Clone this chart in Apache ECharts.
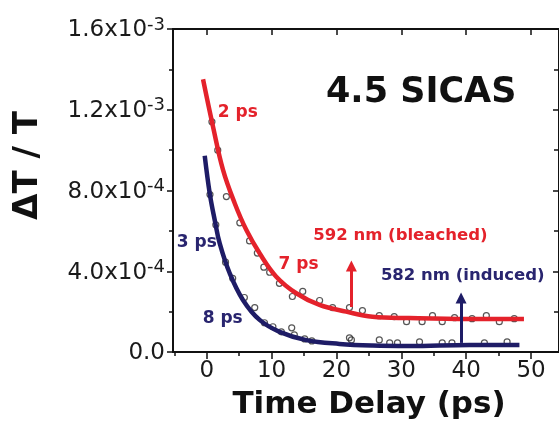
<!DOCTYPE html>
<html>
<head>
<meta charset="utf-8">
<script src="https://cdn.jsdelivr.net/npm/echarts@6/dist/echarts.min.js"></script>
<style>
  html, body { margin: 0; padding: 0; background: #fff; }
  #chart { width: 559px; height: 429px; }
</style>
</head>
<body>
<div id="chart"></div>
<script>
// Bi-exponential fit curves, [time delay (ps), ΔT/T]
const fit592 = [
  [-0.57, 1.351e-3], [0.97, 1.116e-3], [2.51, 9.02e-4], [4.31, 7.37e-4],
  [6.11, 6.04e-4], [8.15, 4.89e-4], [10.72, 3.73e-4], [13.8, 2.91e-4],
  [17.38, 2.33e-4], [21.49, 2.0e-4], [25.54, 1.75e-4], [31.2, 1.68e-4],
  [40.5, 1.63e-4], [48.9, 1.63e-4]
];
const fit582 = [
  [-0.31, 9.72e-4], [0.46, 7.86e-4], [1.23, 6.54e-4], [2.0, 5.38e-4],
  [3.54, 3.9e-4], [5.58, 2.58e-4], [8.15, 1.59e-4], [11.23, 1.0e-4],
  [15.34, 5.9e-5], [20.46, 4.0e-5], [25.54, 3.2e-5], [31.2, 3.0e-5],
  [40.5, 3.5e-5], [48.2, 3.5e-5]
];

// Measured transmission changes
const data592 = [
  [0.8, 1.14e-3], [1.7, 1.0e-3], [3.03, 7.7e-4], [5.1, 6.4e-4], [6.6, 5.5e-4],
  [7.8, 4.9e-4], [8.8, 4.2e-4], [9.7, 3.95e-4], [11.2, 3.4e-4], [13.2, 2.75e-4],
  [14.8, 3.0e-4], [17.4, 2.55e-4], [19.4, 2.2e-4], [22.0, 2.2e-4], [24.0, 2.05e-4],
  [26.6, 1.8e-4], [28.9, 1.75e-4], [30.8, 1.5e-4], [33.2, 1.5e-4], [34.8, 1.8e-4],
  [36.3, 1.5e-4], [38.2, 1.7e-4], [40.9, 1.65e-4], [43.1, 1.8e-4], [45.1, 1.5e-4],
  [47.4, 1.65e-4]
];
const data582 = [
  [0.5, 7.8e-4], [1.4, 6.3e-4], [2.9, 4.45e-4], [4.0, 3.65e-4], [5.8, 2.7e-4],
  [7.4, 2.2e-4], [8.9, 1.45e-4], [10.2, 1.25e-4], [11.5, 1.0e-4], [13.1, 1.2e-4],
  [13.5, 8.5e-5], [15.1, 6.5e-5], [16.2, 5.5e-5], [22.0, 7.0e-5], [22.3, 6.0e-5],
  [26.6, 6.0e-5], [28.2, 4.5e-5], [29.4, 4.5e-5], [32.8, 5.0e-5], [36.3, 4.5e-5],
  [37.8, 4.5e-5], [42.8, 4.5e-5], [46.3, 5.0e-5]
];

// Axis ticks and labels
const xTickValues = [0, 10, 20, 30, 40, 50];
const xMinorTickValues = [-5, 5, 15, 25, 35, 45];
const yTickValues = [0, 4e-4, 8e-4, 1.2e-3, 1.6e-3];
const yTickMantissa = ['0.0', '4.0x10', '8.0x10', '1.2x10', '1.6x10'];
const yTickExponent = ['', '-4', '-4', '-3', '-3'];

// Annotation texts
const lifetimes592 = ['2 ps', '7 ps'];
const lifetimes582 = ['3 ps', '8 ps'];
const probe592 = '592 nm (bleached)';
const probe582 = '582 nm (induced)';
const sampleName = '4.5 SICAS';

const RED = '#e4222b';
const NAVY = '#1e1c66';
const NAVY_TEXT = '#29256f';
const FONT = 'DejaVu Sans';

const chart = echarts.init(document.getElementById('chart'), null, { renderer: 'canvas' });

const xRange = { min: -5.2, max: 54.3 };

function yLabel(v) {
  for (let i = 0; i < yTickValues.length; i++) {
    if (Math.abs(v - yTickValues[i]) < 1e-9) {
      return yTickExponent[i]
        ? '{b|' + yTickMantissa[i] + '}{s|' + yTickExponent[i] + '}'
        : '{b|' + yTickMantissa[i] + '}';
    }
  }
  return '';
}

function annotation(name, x, y, color, size) {
  return {
    name: name, coord: [x, y], symbol: 'circle', symbolSize: 0,
    label: {
      show: true, position: 'inside', formatter: '{b}', color: color,
      fontSize: size, fontWeight: 'bold', fontFamily: FONT
    }
  };
}

const tickStyle = { color: '#111', width: 1.5 };

const option = {
  animation: false,
  backgroundColor: '#fff',
  title: {
    text: sampleName, left: 326, top: 75, padding: 0,
    textStyle: { fontSize: 35, fontWeight: 'bold', fontFamily: FONT, color: '#111' }
  },
  grid: { left: 173, top: 29, right: -2, bottom: 77, containLabel: false },
  xAxis: [
    {
      type: 'value', position: 'bottom', min: xRange.min, max: xRange.max,
      axisLine: { show: true, onZero: false, lineStyle: { color: '#111', width: 2 } },
      axisTick: { show: true, customValues: xTickValues, length: 7, lineStyle: tickStyle },
      axisLabel: { customValues: xTickValues, fontSize: 23, fontFamily: FONT, color: '#1a1a1a', margin: 8 },
      splitLine: { show: false },
      name: 'Time Delay (ps)', nameLocation: 'middle', nameGap: 37,
      nameTextStyle: { fontSize: 31, fontWeight: 'bold', fontFamily: FONT, color: '#111', padding: [0, 0, 0, 6] }
    },
    {
      type: 'value', position: 'bottom', min: xRange.min, max: xRange.max,
      axisLine: { show: false },
      axisTick: { show: true, customValues: xMinorTickValues, length: 4, lineStyle: tickStyle },
      axisLabel: { show: false }, splitLine: { show: false }
    },
    {
      type: 'value', position: 'top', min: xRange.min, max: xRange.max,
      axisLine: { show: true, onZero: false, lineStyle: { color: '#111', width: 2 } },
      axisTick: { show: true, inside: true, customValues: xTickValues, length: 6, lineStyle: tickStyle },
      axisLabel: { show: false }, splitLine: { show: false }
    },
    {
      type: 'value', position: 'top', min: xRange.min, max: xRange.max,
      axisLine: { show: false },
      axisTick: { show: true, inside: true, customValues: xMinorTickValues, length: 4, lineStyle: tickStyle },
      axisLabel: { show: false }, splitLine: { show: false }
    }
  ],
  yAxis: [
    {
      type: 'value', position: 'left', min: 0, max: 1.6e-3, interval: 4e-4,
      axisLine: { show: true, onZero: false, lineStyle: { color: '#111', width: 2 } },
      axisTick: { show: true, length: 6, lineStyle: tickStyle },
      minorTick: { show: true, splitNumber: 2, length: 4, lineStyle: tickStyle },
      splitLine: { show: false },
      axisLabel: {
        margin: 8, formatter: yLabel,
        rich: {
          b: { fontSize: 23, fontFamily: FONT, color: '#1a1a1a', lineHeight: 26, verticalAlign: 'bottom' },
          s: { fontSize: 18, fontFamily: FONT, color: '#1a1a1a', lineHeight: 20, verticalAlign: 'top' }
        }
      },
      name: 'ΔT / T', nameLocation: 'middle', nameGap: 128, nameRotate: 90,
      nameTextStyle: { fontSize: 34, fontWeight: 'bold', fontFamily: FONT, color: '#111', padding: [0, 0, 0, 50] }
    },
    {
      type: 'value', position: 'right', min: 0, max: 1.6e-3, interval: 4e-4,
      axisLine: { show: true, onZero: false, lineStyle: { color: '#111', width: 2 } },
      axisTick: { show: true, inside: true, length: 6, lineStyle: tickStyle },
      minorTick: { show: true, splitNumber: 2, length: 5, lineStyle: tickStyle },
      axisLabel: { show: false }, splitLine: { show: false }
    }
  ],
  series: [
    {
      name: 'measured 592', type: 'scatter', data: data592, z: 2,
      symbol: 'circle', symbolSize: 6,
      itemStyle: { color: 'rgba(255,255,255,0)', borderColor: '#2a2a2a', borderWidth: 1.2 }
    },
    {
      name: 'measured 582', type: 'scatter', data: data582, z: 2,
      symbol: 'circle', symbolSize: 6,
      itemStyle: { color: 'rgba(255,255,255,0)', borderColor: '#2a2a2a', borderWidth: 1.2 }
    },
    {
      name: '592 nm fit', type: 'line', data: fit592, z: 4, smooth: 0.4,
      showSymbol: false, lineStyle: { color: RED, width: 4.5 }, itemStyle: { color: RED },
      markPoint: {
        silent: true,
        data: [
          annotation(lifetimes592[0], 4.8, 1.184e-3, RED, 17),
          annotation(lifetimes592[1], 14.15, 4.31e-4, RED, 17),
          annotation(probe592, 29.85, 5.75e-4, RED, 16.5)
        ]
      },
      markLine: {
        silent: true, symbol: ['none', 'triangle'], symbolSize: 11,
        label: { show: false },
        lineStyle: { color: RED, width: 3, type: 'solid' },
        data: [[{ coord: [22.3, 2.23e-4] }, { coord: [22.3, 4.26e-4] }]]
      }
    },
    {
      name: '582 nm fit', type: 'line', data: fit582, z: 4, smooth: 0.4,
      showSymbol: false, lineStyle: { color: NAVY, width: 4.5 }, itemStyle: { color: NAVY },
      markPoint: {
        silent: true,
        data: [
          annotation(lifetimes582[0], -1.54, 5.4e-4, NAVY_TEXT, 17),
          annotation(lifetimes582[1], 2.46, 1.68e-4, NAVY_TEXT, 17),
          annotation(probe582, 39.46, 3.77e-4, NAVY_TEXT, 16.5)
        ]
      },
      markLine: {
        silent: true, symbol: ['none', 'triangle'], symbolSize: 11,
        label: { show: false },
        lineStyle: { color: NAVY, width: 3, type: 'solid' },
        data: [[{ coord: [39.2, 4.5e-5] }, { coord: [39.2, 2.68e-4] }]]
      }
    }
  ]
};

chart.setOption(option);
</script>
</body>
</html>
